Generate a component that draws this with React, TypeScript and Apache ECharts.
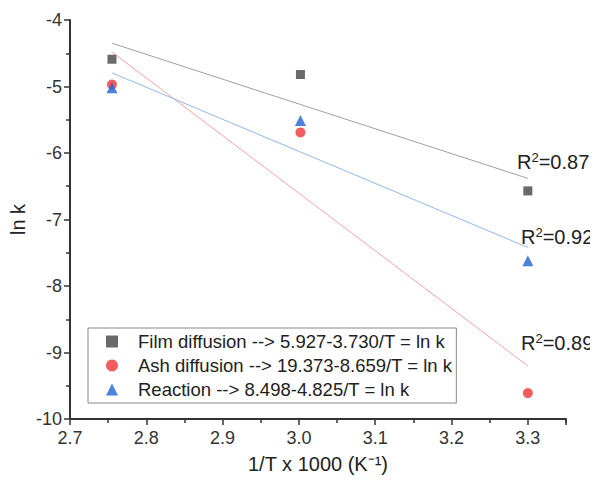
import React, { useEffect, useRef } from "react";
import * as echarts from "echarts";

const xValues = [2.755, 3.002, 3.3];
const filmY = [-4.59, -4.82, -6.57];
const ashY = [-4.97, -5.69, -9.61];
const reactionY = [-5.02, -5.51, -7.62];

const fitX = [2.755, 3.3];
const filmFit = [-4.349, -6.382];
const ashFit = [-4.483, -9.202];
const reactionFit = [-4.795, -7.42];

const seriesNames = [
  "Film diffusion --> 5.927-3.730/T = ln k",
  "Ash diffusion --> 19.373-8.659/T = ln k",
  "Reaction --> 8.498-4.825/T = ln k",
];
const r2Labels = ["0.87", "0.92", "0.89"];

const pair = (xs: number[], ys: number[]) => xs.map((x, i) => [x, ys[i]]);

export default function App() {
  const ref = useRef<HTMLDivElement>(null);
  useEffect(() => {
    if (!ref.current) return;
    const chart = echarts.init(ref.current, null, { renderer: "svg" });
    const font = "'Liberation Sans', Arial, sans-serif";
    const fitLine = (ys: number[], color: string) => ({
      type: "line",
      data: pair(fitX, ys),
      symbol: "none",
      lineStyle: { color, width: 1 },
      silent: true,
      z: 1,
    });
    const r2Pos = [
      [509, 154],
      [513, 229],
      [513, 335],
    ];
    chart.setOption({
      animation: false,
      textStyle: { fontFamily: font },
      grid: { left: 62, right: 32, top: 12, bottom: 58, outerBoundsMode: "none", containLabel: false },
      xAxis: {
        type: "value",
        min: 2.7,
        max: 3.35,
        interval: 0.1,
        name: "1/T x 1000 (K⁻¹)",
        nameLocation: "middle",
        nameGap: 35,
        nameMoveOverlap: false,
        nameTextStyle: { fontSize: 20, color: "#222", fontFamily: font },
        axisLine: { lineStyle: { color: "#333", width: 2 } },
        axisTick: { show: true, inside: false, length: 6, lineStyle: { color: "#333", width: 1.5 } },
        minorTick: { show: true, splitNumber: 2, length: 4, lineStyle: { color: "#333", width: 1.5 } },
        axisLabel: {
          fontSize: 18,
          color: "#333",
          margin: 10,
          fontFamily: font,
          formatter: (v: number) => (v > 3.31 ? "" : v.toFixed(1)),
        },
        splitLine: { show: false },
      },
      yAxis: {
        type: "value",
        min: -10,
        max: -4,
        interval: 1,
        name: "ln k",
        nameLocation: "middle",
        nameGap: 42,
        nameMoveOverlap: false,
        nameRotate: 90,
        nameTextStyle: { fontSize: 20, color: "#222", fontFamily: font },
        axisLine: { show: true, lineStyle: { color: "#333", width: 2 } },
        axisTick: { show: true, inside: false, length: 6, lineStyle: { color: "#333", width: 1.5 } },
        minorTick: { show: true, splitNumber: 2, length: 4, lineStyle: { color: "#333", width: 1.5 } },
        axisLabel: { fontSize: 18, color: "#333", margin: 8, fontFamily: font },
        splitLine: { show: false },
      },
      legend: {
        data: seriesNames,
        orient: "vertical",
        left: 80,
        top: 320,
        padding: [4, 4, 4, 18],
        itemGap: 5,
        itemWidth: 12,
        itemHeight: 12,
        borderColor: "#888",
        borderWidth: 1,
        backgroundColor: "#fff",
        textStyle: { fontSize: 18.5, color: "#222", fontFamily: font, padding: [0, 0, 0, 15] },
        selectedMode: false,
      },
      series: [
        fitLine(filmFit, "#a0a0a0"),
        fitLine(ashFit, "#f4a3a3"),
        fitLine(reactionFit, "#8fb8ea"),
        {
          name: seriesNames[0],
          type: "scatter",
          data: pair(xValues, filmY),
          symbol: "rect",
          symbolSize: 9,
          itemStyle: { color: "#454545" },
          z: 3,
        },
        {
          name: seriesNames[1],
          type: "scatter",
          data: pair(xValues, ashY),
          symbol: "circle",
          symbolSize: 10,
          itemStyle: { color: "#f03535" },
          z: 3,
        },
        {
          name: seriesNames[2],
          type: "scatter",
          data: pair(xValues, reactionY),
          symbol: "triangle",
          symbolSize: 11,
          itemStyle: { color: "#1f62d8" },
          z: 4,
        },
      ],
      graphic: r2Labels.map((v, i) => ({
        type: "text",
        x: r2Pos[i][0],
        y: r2Pos[i][1],
        style: {
          text: "{r|R}{s|2}{r|=" + v + "}",
          verticalAlign: "middle",
          rich: {
            r: { fontSize: 20, fill: "#222", fontFamily: font },
            s: { fontSize: 13, fill: "#222", fontFamily: font, padding: [0, 0, 10, 0] },
          },
        },
      })),
    });
    return () => chart.dispose();
  }, []);
  return <div ref={ref} style={{ width: 590, height: 469 }} />;
}
